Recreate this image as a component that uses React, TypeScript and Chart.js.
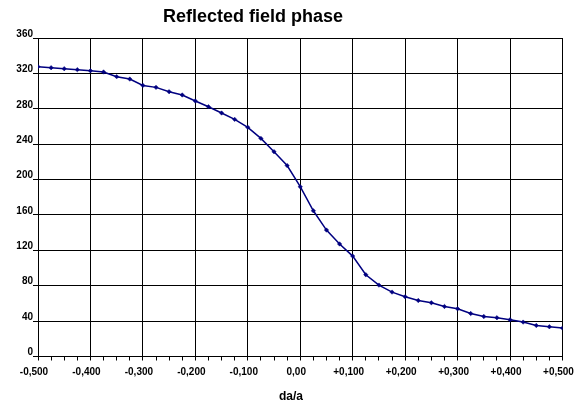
import Chart from "chart.js/auto";
import React, { useEffect, useRef } from "react";

// relative detuning da/a
const daValues = [
  -0.5, -0.475, -0.45, -0.425, -0.4, -0.375, -0.35, -0.325, -0.3, -0.275,
  -0.25, -0.225, -0.2, -0.175, -0.15, -0.125, -0.1, -0.075, -0.05, -0.025,
  0, 0.025, 0.05, 0.075, 0.1, 0.125, 0.15, 0.175, 0.2, 0.225, 0.25, 0.275,
  0.3, 0.325, 0.35, 0.375, 0.4, 0.425, 0.45, 0.475, 0.5,
];

// reflected field phase, degrees
const phaseValues = [
  327.6, 326.4, 325.3, 324.2, 323.0, 321.6, 316.3, 313.6, 306.4, 304.2,
  299.3, 295.6, 288.8, 282.3, 275.2, 268.0, 259.0, 246.5, 231.5, 215.8,
  191.9, 164.7, 142.9, 127.2, 113.5, 92.4, 80.7, 72.8, 67.5, 63.3, 60.7, 56.5,
  53.9, 48.6, 45.2, 43.8, 41.5, 38.9, 35.1, 33.6, 32.1,
];

const titleText = "Reflected field phase";
const xAxisTitle = "da/a";

const FONT = '"Liberation Sans", Arial, sans-serif';

// format -0,500 / 0,00 / +0,100
const formatDa = (v: number): string => {
  const r = Math.round(v * 1000);
  if (r % 100 !== 0) return "";
  if (r === 0) return "0,00";
  const sign = r > 0 ? "+" : "-";
  return sign + (Math.abs(r) / 1000).toFixed(3).replace(".", ",");
};

const isMajor = (v: number) => Math.round(v * 1000) % 100 === 0;

const titlesPlugin = {
  id: "titles",
  afterDraw(chart: Chart) {
    const ctx = chart.ctx;
    ctx.save();
    ctx.fillStyle = "#000";
    ctx.textAlign = "center";
    ctx.textBaseline = "middle";
    ctx.font = `bold 18px ${FONT}`;
    ctx.fillText(titleText, 253, 17);
    ctx.font = `bold 12px ${FONT}`;
    ctx.fillText(xAxisTitle, 291, 397);
    ctx.restore();
  },
};

const App: React.FC = () => {
  const canvasRef = useRef<HTMLCanvasElement>(null);

  useEffect(() => {
    if (!canvasRef.current) return;
    document.body.style.margin = "0";

    const chart = new Chart(canvasRef.current, {
      type: "line",
      data: {
        datasets: [
          {
            label: "phase",
            data: daValues.map((x, i) => ({ x, y: phaseValues[i] })),
            borderColor: "#000080",
            backgroundColor: "#000080",
            borderWidth: 1.5,
            tension: 0,
            pointStyle: "rectRot",
            pointRadius: 2.2,
            pointBorderWidth: 0.5,
          },
        ],
      },
      options: {
        animation: false,
        responsive: true,
        maintainAspectRatio: false,
        layout: { padding: { left: 0, top: 38, right: 16.5, bottom: 0 } },
        plugins: {
          legend: { display: false },
          title: { display: false },
          tooltip: { enabled: false },
        },
        scales: {
          x: {
            type: "linear",
            min: -0.5,
            max: 0.5,
            afterFit: (scale: any) => {
              scale.height = 49.5;
              scale.paddingLeft = 0;
              scale.paddingRight = 0;
            },
            ticks: {
              stepSize: 0.025,
              autoSkip: false,
              maxRotation: 0,
              padding: 6,
              labelOffset: -4,
              color: "#000",
              font: { family: FONT, size: 10, weight: "bold" },
              callback: (v: any) => formatDa(Number(v)),
            },
            grid: {
              color: (c: any) =>
                c.tick && isMajor(c.tick.value) ? "#000" : "rgba(0,0,0,0)",
              tickColor: "#000",
              tickLength: 4,
              lineWidth: 1,
            },
            border: { color: "#000", width: 1 },
          },
          y: {
            min: 0,
            max: 360,
            afterFit: (scale: any) => {
              scale.width = 38;
              scale.paddingTop = 0;
              scale.paddingBottom = 0;
            },
            ticks: {
              stepSize: 40,
              padding: 0,
              labelOffset: -4,
              color: "#000",
              font: { family: FONT, size: 10, weight: "bold" },
            },
            grid: {
              color: "#000",
              tickColor: "#000",
              tickLength: 5,
              lineWidth: 1,
            },
            border: { color: "#000", width: 1 },
          },
        },
      },
      plugins: [titlesPlugin],
    });

    return () => chart.destroy();
  }, []);

  return (
    <div
      style={{
        position: "absolute",
        left: 0,
        top: 0,
        width: 579,
        height: 406,
        background: "#fff",
      }}
    >
      <canvas ref={canvasRef}></canvas>
    </div>
  );
};

export default App;
